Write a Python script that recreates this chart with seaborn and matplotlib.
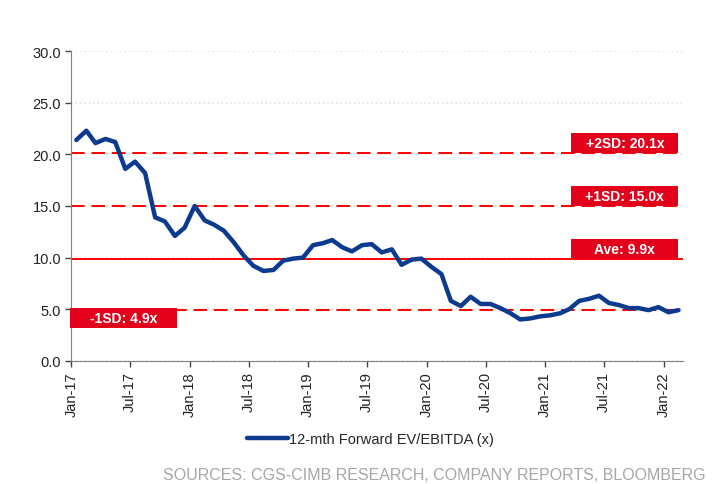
import pandas as pd
import numpy as np
import matplotlib
matplotlib.use('Agg')
import matplotlib.pyplot as plt
import matplotlib.dates as mdates
import matplotlib.transforms as mtransforms
from matplotlib.patches import Rectangle
import seaborn as sns

# Datos mensuales Jan-17 .. Feb-22 (62 meses)
months = pd.date_range('2017-01-01', periods=62, freq='MS')
ev_ebitda = [21.4, 22.3, 21.1, 21.5, 21.2, 18.6, 19.3, 18.2, 13.9, 13.5, 12.1, 12.9,
             15.0, 13.6, 13.2, 12.6, 11.5, 10.2, 9.2, 8.7, 8.8, 9.7, 9.9, 10.0,
             11.2, 11.4, 11.7, 11.0, 10.6, 11.2, 11.3, 10.5, 10.8, 9.3, 9.8, 9.9,
             9.1, 8.4, 5.8, 5.3, 6.2, 5.5, 5.5, 5.1, 4.6, 4.0, 4.1, 4.3,
             4.4, 4.6, 5.0, 5.8, 6.0, 6.3, 5.6, 5.4, 5.1, 5.1, 4.9, 5.2,
             4.7, 4.9]
band_names = ['+2SD', '+1SD', 'Ave', '-1SD']
band_values = [20.1, 15.0, 9.9, 4.9]
band_styles = [(0, (7, 3.5)), (0, (7, 3.5)), '-', (0, (7, 3.5))]
series_label = '12-mth Forward EV/EBITDA (x)'
source_text = 'SOURCES: CGS-CIMB RESEARCH, COMPANY REPORTS, BLOOMBERG'

df = pd.DataFrame({'date': months + pd.Timedelta(days=15), 'value': ev_ebitda})

sns.set_style('white')
plt.rcParams['font.family'] = ['Liberation Sans', 'DejaVu Sans']

fig = plt.figure(figsize=(7.19, 4.85), dpi=100)
ax = fig.add_axes([0.0994, 0.2542, 0.8501, 0.6380])

# lineas de desviacion estandar
for name, val, ls in zip(band_names, band_values, band_styles):
    ax.axhline(val, color='#FF0000', lw=1.4, ls=ls, zorder=2)

sns.lineplot(data=df, x='date', y='value', ax=ax, color='#0B3A8E', lw=3.2,
             label=series_label, zorder=3, legend=False)

# etiquetas en cajas rojas
trans = mtransforms.blended_transform_factory(ax.transAxes, ax.transData)
box_h = 1.94
for name, val in zip(band_names, band_values):
    if name == '-1SD':
        x0, y0 = -0.002, val - 1.73
    else:
        x0, y0 = 0.818, val
    ax.add_patch(Rectangle((x0, y0), 0.175, box_h, transform=trans,
                           facecolor='#E3001B', edgecolor='none', zorder=4, clip_on=False))
    ax.text(x0 + 0.0875, y0 + box_h / 2, f'{name}: {val:.1f}x', transform=trans,
            ha='center', va='center', color='white', fontsize=10, fontweight='bold', zorder=5)

ax.set_ylim(0, 30)
ax.set_yticks(np.arange(0, 31, 5))
ax.yaxis.set_major_formatter(matplotlib.ticker.FormatStrFormatter('%.1f'))
ax.set_xlim(pd.Timestamp('2017-01-01'), pd.Timestamp('2022-03-01'))
ax.set_xticks(pd.date_range('2017-01-01', '2022-01-01', freq='6MS'))
ax.xaxis.set_major_formatter(mdates.DateFormatter('%b-%y'))
plt.setp(ax.get_xticklabels(), rotation=90)
ax.tick_params(axis='both', labelsize=10.5, labelcolor='#222222', length=4, width=1,
               direction='out', bottom=True, left=True, color='#444444')
ax.grid(axis='y', color='#E3E3E3', ls=':', lw=1.2)
ax.set_axisbelow(True)
sns.despine(ax=ax)
for side in ['left', 'bottom']:
    ax.spines[side].set_color('#808080')
ax.set_xlabel('')
ax.set_ylabel('')

fig.legend(handles=ax.get_lines()[len(band_values):len(band_values) + 1],
           labels=[series_label], loc='center', bbox_to_anchor=(0.515, 0.093),
           frameon=False, fontsize=10.5, handlelength=2.8, handletextpad=0.1)

fig.text(0.981, 0.019, source_text, ha='right', va='center', color='#A6A6A6', fontsize=11.5)

fig.savefig('out.png', dpi=100)
